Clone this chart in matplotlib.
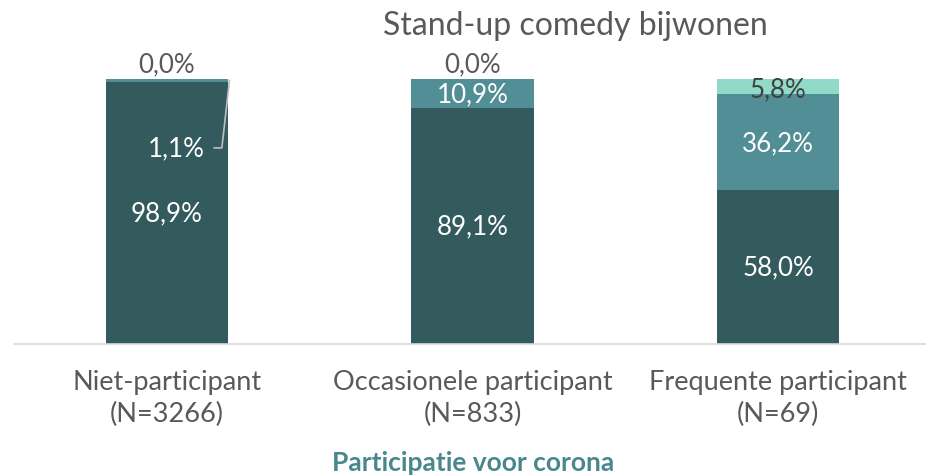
import matplotlib
matplotlib.use("Agg")
import matplotlib.pyplot as plt
import numpy as np

plt.rcParams['font.family'] = ['Lato', 'DejaVu Sans']

categories = ["Niet-participant\n(N=3266)", "Occasionele participant\n(N=833)",
              "Frequente participant\n(N=69)"]
nooit = [98.9, 89.1, 58.0]
soms = [1.1, 10.9, 36.2]
vaak = [0.0, 0.0, 5.8]

dark = "#335A5D"
mid = "#528E95"
light = "#91D9C8"
grey = "#595959"

fig = plt.figure(figsize=(9.26, 4.77), dpi=100)
ax = fig.add_axes([14 / 926, 132 / 477, 917 / 926, 265 / 477])

x = np.arange(len(categories))
w = 0.40
b1 = ax.bar(x, nooit, w, color=dark)
b2 = ax.bar(x, soms, w, bottom=nooit, color=mid)
bottom3 = [a + b for a, b in zip(nooit, soms)]
b3 = ax.bar(x, vaak, w, bottom=bottom3, color=light)

ax.set_xlim(-0.5, 2.5)
ax.set_ylim(0, 100)

def fmt(v):
    return f"{v:.1f}%".replace(".", ",")

fs = 18.7
# dark segment labels
for i, v in enumerate(nooit):
    ax.text(i, v / 2, fmt(v), ha="center", va="center", color="white", fontsize=fs)

# middle segment labels
for i, v in enumerate(soms):
    if v < 3:
        # small slice: label pulled out to the left with a leader line
        ax.text(i + 0.03, 74, fmt(v), ha="center", va="center", color="white", fontsize=fs)
        ax.plot([i + 0.155, i + 0.18, i + 0.205], [74, 74, nooit[i] + v / 2],
                color="#BFBFBF", lw=1.2)
    else:
        ax.text(i, nooit[i] + v / 2, fmt(v), ha="center", va="center",
                color="white", fontsize=fs)

# top segment labels
for i, v in enumerate(vaak):
    if v < 1:
        ax.text(i, 100 + 1.2, fmt(v), ha="center", va="bottom", color=grey,
                fontsize=fs, clip_on=False)
    else:
        ax.text(i, bottom3[i] + v / 2 - 0.8, fmt(v), ha="center", va="center",
                color="#404040", fontsize=fs)

for s in ["top", "right", "left"]:
    ax.spines[s].set_visible(False)
ax.spines["bottom"].set_color("#D9D9D9")
ax.spines["bottom"].set_linewidth(1.2)
ax.set_yticks([])
ax.set_xticks(x)
ax.set_xticklabels(categories, fontsize=19.5, color=grey, linespacing=1.35)
ax.tick_params(axis="x", length=0, pad=18)

fig.text(473 / 926, 14 / 477, "Participatie voor corona", ha="center", va="center",
         fontsize=19, fontweight="bold", color="#4A878D")
fig.text(575 / 926, 451 / 477, "Stand-up comedy bijwonen", ha="center", va="center",
         fontsize=23, color=grey)

fig.savefig("out.png", dpi=100, facecolor="white")
